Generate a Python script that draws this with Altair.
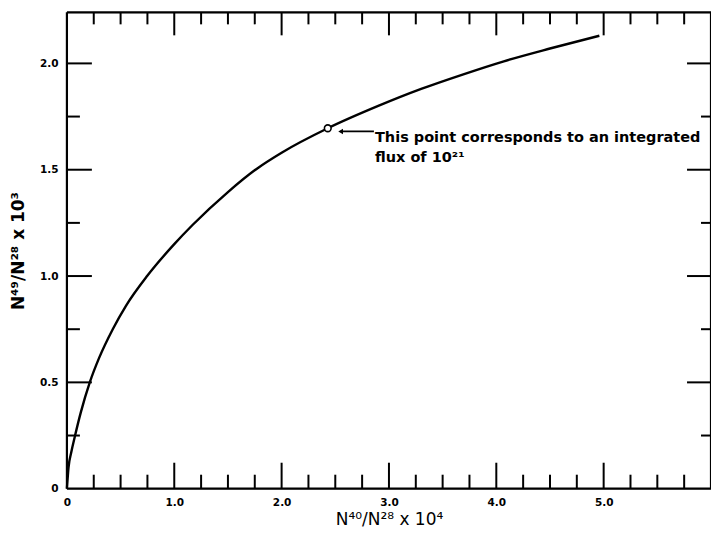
import altair as alt
import pandas as pd

# curve
xs = [0, 0.015, 0.04, 0.076, 0.13, 0.213, 0.3, 0.427, 0.55, 0.747, 1.0, 1.17, 1.5, 1.77,
      2.0, 2.43, 2.9, 3.3, 3.7, 4.07, 4.5, 4.96]
ys = [0, 0.10, 0.17, 0.25, 0.36, 0.5, 0.615, 0.75, 0.86, 1.0, 1.15, 1.24, 1.395, 1.505,
      1.58, 1.695, 1.80, 1.88, 1.95, 2.01, 2.07, 2.13]

point_x = [2.43]
point_y = [1.695]

x_major = [1, 2, 3, 4, 5]
x_minor = [0.25, 0.5, 0.75, 1.25, 1.5, 1.75, 2.25, 2.5, 2.75, 3.25, 3.5, 3.75,
           4.25, 4.5, 4.75, 5.25, 5.5, 5.75]
y_major = [0.5, 1.0, 1.5, 2.0]
y_minor = [0.25, 0.75, 1.25, 1.75]

x_labels = [0, 1, 2, 3, 4, 5]
y_labels = [0, 0.5, 1.0, 1.5, 2.0]

note_lines = ["This point corresponds to an integrated", "flux of 10²¹"]
note_x = [2.87, 2.87]
note_y = [1.65, 1.555]
arrow_x = [2.55, 2.86]
arrow_y = [1.68, 1.68]

W, H = 645, 477
XD = [0, 6]
YD = [0, 2.24]
FONT = "DejaVu Sans"

xs_ = alt.Scale(domain=XD, nice=False, zero=False)
ys_ = alt.Scale(domain=YD, nice=False, zero=False)

curve_df = pd.DataFrame({"x": xs, "y": ys})

base_axis_x = alt.X("x:Q", scale=xs_,
                    axis=alt.Axis(values=x_labels, ticks=False, domain=False, grid=False,
                                  labelExpr="datum.value == 0 ? '0' : format(datum.value, '.1f')",
                                  labelFont=FONT, labelFontSize=10.5, labelFontWeight="bold",
                                  labelColor="black", labelPadding=9, labelFlush=False,
                                  title="N⁴⁰/N²⁸ x 10⁴", titleFont=FONT, titleFontSize=17,
                                  titleFontWeight="normal", titleColor="black", titlePadding=3))
base_axis_y = alt.Y("y:Q", scale=ys_,
                    axis=alt.Axis(values=y_labels, ticks=False, domain=False, grid=False,
                                  labelExpr="datum.value == 0 ? '0' : format(datum.value, '.1f')",
                                  labelFont=FONT, labelFontSize=10.5, labelFontWeight="bold",
                                  labelColor="black", labelPadding=9, labelFlush=False,
                                  title="N⁴⁹/N²⁸ x 10³", titleFont=FONT, titleFontSize=17,
                                  titleFontWeight="bold", titleColor="black", titlePadding=12))

curve = alt.Chart(curve_df).mark_line(color="black", strokeWidth=2.4, interpolate="monotone").encode(
    x=base_axis_x, y=base_axis_y)

pt = alt.Chart(pd.DataFrame({"x": point_x, "y": point_y})).mark_point(
    shape="circle", filled=True, fill="white", stroke="black", strokeWidth=1.6, size=45, opacity=1
).encode(x=alt.X("x:Q", scale=xs_), y=alt.Y("y:Q", scale=ys_))


def tick_layer(vals, axis, length):
    df = pd.DataFrame({"v": vals})
    m = alt.Chart(df).mark_rule(color="black", strokeWidth=2)
    if axis == "bottom":
        return m.encode(x=alt.X("v:Q", scale=xs_), y=alt.value(H), y2=alt.value(H - length))
    if axis == "top":
        return m.encode(x=alt.X("v:Q", scale=xs_), y=alt.value(0), y2=alt.value(length))
    if axis == "left":
        return m.encode(y=alt.Y("v:Q", scale=ys_), x=alt.value(0), x2=alt.value(length))
    return m.encode(y=alt.Y("v:Q", scale=ys_), x=alt.value(W), x2=alt.value(W - length))


ticks = [
    tick_layer(x_major, "bottom", 26), tick_layer(x_minor, "bottom", 14),
    tick_layer(x_major, "top", 23), tick_layer(x_minor, "top", 12),
    tick_layer(y_major, "left", 25), tick_layer(y_minor, "left", 13),
    tick_layer(y_major, "right", 24), tick_layer(y_minor, "right", 10),
]

one = pd.DataFrame({"k": [0]})
frame = [
    alt.Chart(one).mark_rule(color="black", strokeWidth=2.2).encode(
        x=alt.value(0), x2=alt.value(W), y=alt.value(H)),
    alt.Chart(one).mark_rule(color="black", strokeWidth=2.2).encode(
        x=alt.value(0), x2=alt.value(W), y=alt.value(0)),
    alt.Chart(one).mark_rule(color="black", strokeWidth=2.2).encode(
        x=alt.value(0), y=alt.value(0), y2=alt.value(H)),
    alt.Chart(one).mark_rule(color="black", strokeWidth=2.2).encode(
        x=alt.value(W), y=alt.value(0), y2=alt.value(H)),
]

note = alt.Chart(pd.DataFrame({"t": note_lines, "x": note_x, "y": note_y})).mark_text(
    align="left", baseline="middle", font=FONT, fontSize=14.5, fontWeight="bold", color="black"
).encode(x=alt.X("x:Q", scale=xs_), y=alt.Y("y:Q", scale=ys_), text="t:N")

arrow = alt.Chart(pd.DataFrame({"x": arrow_x, "y": arrow_y})).mark_line(
    color="black", strokeWidth=1.8).encode(x=alt.X("x:Q", scale=xs_), y=alt.Y("y:Q", scale=ys_))
head = alt.Chart(pd.DataFrame({"x": arrow_x[:1], "y": arrow_y[:1]})).mark_point(
    shape="triangle-left", filled=True, color="black", size=30, opacity=1
).encode(x=alt.X("x:Q", scale=xs_), y=alt.Y("y:Q", scale=ys_))

chart = alt.layer(curve, *frame, *ticks, arrow, head, pt, note).properties(
    width=W, height=H,
    autosize=alt.AutoSizeParams(type="none"),
    padding={"left": 59, "top": 4, "right": 0, "bottom": 42},
).configure_view(strokeWidth=0).configure(background="white")

chart.save("out.html", embed_options={"renderer": "svg", "actions": False})
